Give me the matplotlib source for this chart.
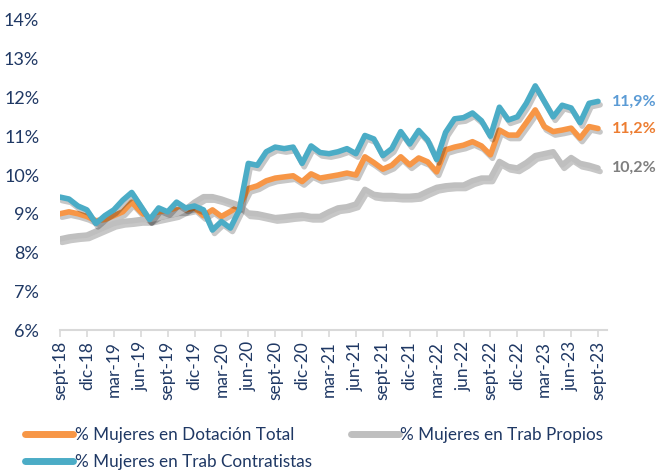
import matplotlib
matplotlib.use("Agg")
import matplotlib.pyplot as plt
import matplotlib.patheffects as pe
import numpy as np

plt.rcParams['font.family'] = ['Lato', 'DejaVu Sans']

months = ["sept-18", "oct-18", "nov-18", "dic-18", "ene-19", "feb-19", "mar-19", "abr-19", "may-19", "jun-19",
          "jul-19", "ago-19", "sept-19", "oct-19", "nov-19", "dic-19", "ene-20", "feb-20", "mar-20", "abr-20",
          "may-20", "jun-20", "jul-20", "ago-20", "sept-20", "oct-20", "nov-20", "dic-20", "ene-21", "feb-21",
          "mar-21", "abr-21", "may-21", "jun-21", "jul-21", "ago-21", "sept-21", "oct-21", "nov-21", "dic-21",
          "ene-22", "feb-22", "mar-22", "abr-22", "may-22", "jun-22", "jul-22", "ago-22", "sept-22", "oct-22",
          "nov-22", "dic-22", "ene-23", "feb-23", "mar-23", "abr-23", "may-23", "jun-23", "jul-23", "ago-23",
          "sept-23"]

dotacion_total = [9.0, 9.05, 9.0, 8.93, 8.82, 8.85, 8.95, 9.05, 9.3, 9.05,
                  8.85, 9.0, 9.05, 9.1, 9.1, 9.15, 8.95, 9.1, 8.93, 9.06,
                  9.2, 9.65, 9.72, 9.85, 9.92, 9.95, 9.98, 9.83, 10.03, 9.92,
                  9.96, 10.0, 10.05, 10.0, 10.47, 10.32, 10.15, 10.25, 10.47, 10.26,
                  10.44, 10.34, 10.08, 10.65, 10.72, 10.77, 10.86, 10.75, 10.52, 11.16,
                  11.03, 11.03, 11.35, 11.68, 11.25, 11.12, 11.16, 11.21, 10.95, 11.25,
                  11.2]

trab_propios = [8.35, 8.4, 8.43, 8.45, 8.55, 8.65, 8.75, 8.8, 8.82, 8.85,
                8.85, 8.9, 8.95, 9.0, 9.12, 9.3, 9.44, 9.44, 9.38, 9.3,
                9.22, 9.02, 9.0, 8.95, 8.9, 8.92, 8.95, 8.97, 8.93, 8.93,
                9.05, 9.15, 9.18, 9.25, 9.63, 9.5, 9.47, 9.47, 9.45, 9.45,
                9.47, 9.58, 9.68, 9.72, 9.74, 9.74, 9.85, 9.92, 9.92, 10.35,
                10.22, 10.18, 10.32, 10.5, 10.55, 10.6, 10.26, 10.45, 10.3, 10.25,
                10.18]

trab_contratistas = [9.43, 9.38, 9.2, 9.1, 8.75, 8.95, 9.1, 9.35, 9.55, 9.2,
                     8.85, 9.15, 9.05, 9.3, 9.15, 9.2, 9.1, 8.58, 8.8, 8.63,
                     9.1, 10.3, 10.25, 10.6, 10.72, 10.68, 10.72, 10.3, 10.75, 10.58,
                     10.55, 10.6, 10.68, 10.55, 11.02, 10.93, 10.5, 10.68, 11.12, 10.8,
                     11.15, 10.9, 10.4, 11.1, 11.45, 11.48, 11.6, 11.4, 11.0, 11.75,
                     11.42, 11.5, 11.85, 12.3, 11.9, 11.5, 11.8, 11.73, 11.35, 11.85,
                     11.9]

series_names = ["% Mujeres en Dotación Total", "% Mujeres en Trab Propios", "% Mujeres en Trab Contratistas"]
end_labels = ["11,2%", "10,2%", "11,9%"]
y_ticks = [6, 7, 8, 9, 10, 11, 12, 13, 14]

c_orange = "#F79646"
c_gray = "#BFBFBF"
c_blue = "#4BACC6"
navy = "#1F3864"

fig = plt.figure(figsize=(6.58, 4.73), dpi=100)
ax = fig.add_axes([60/658, 1 - 330/473, (607-60)/658, (330-20)/473])

x = np.arange(len(months))
shadow = [pe.SimpleLineShadow(offset=(1.5, -2.5), shadow_color='black', alpha=0.22), pe.Normal()]

l1, = ax.plot(x, dotacion_total, color=c_orange, lw=4, solid_joinstyle='round',
              solid_capstyle='round', path_effects=shadow, label=series_names[0], zorder=3)
l2, = ax.plot(x, trab_propios, color=c_gray, lw=4, solid_joinstyle='round',
              solid_capstyle='round', path_effects=shadow, label=series_names[1], zorder=4)
l3, = ax.plot(x, trab_contratistas, color=c_blue, lw=4, solid_joinstyle='round',
              solid_capstyle='round', path_effects=shadow, label=series_names[2], zorder=5)

ax.set_xlim(0, 61)
ax.set_ylim(6, 14)
ax.set_yticks(y_ticks)
ax.set_yticklabels([f"{t}%" for t in y_ticks])
tick_idx = list(range(0, len(months), 3))
ax.set_xticks(tick_idx)
ax.set_xticklabels([months[i] for i in tick_idx], rotation=90)

for s in ["top", "right", "left"]:
    ax.spines[s].set_visible(False)
ax.spines["bottom"].set_color("#D9D9D9")
ax.spines["bottom"].set_linewidth(1.5)
ax.tick_params(axis='y', length=0, labelsize=13, labelcolor=navy, pad=15)
ax.tick_params(axis='x', length=5, width=1.2, color="#D9D9D9", labelsize=12.5, labelcolor=navy, pad=3)

# end labels
last = len(months) - 1
ax.annotate(end_labels[2], (last, trab_contratistas[-1]), xytext=(10, 0), textcoords='offset points',
            va='center', ha='left', color="#5B9BD5", fontsize=11.5, fontweight='bold')
ax.annotate(end_labels[0], (last, dotacion_total[-1]), xytext=(10, 0), textcoords='offset points',
            va='center', ha='left', color="#ED7D31", fontsize=11.5, fontweight='bold')
ax.annotate(end_labels[1], (last, trab_propios[-1]), xytext=(10, 0), textcoords='offset points',
            va='center', ha='left', color="#7F7F7F", fontsize=11.5, fontweight='bold')

leg = fig.legend(handles=[l1, l3, l2], labels=[series_names[0], series_names[2], series_names[1]],
                 ncol=2, loc='upper left', bbox_to_anchor=(25/658, 1 - 427/473), frameon=False,
                 fontsize=12.3, handlelength=2.8, handletextpad=0.1, columnspacing=2.3,
                 labelspacing=0.65, borderaxespad=0, borderpad=0)
for t in leg.get_texts():
    t.set_color(navy)
for h in leg.legend_handles:
    h.set_path_effects([])
    h.set_linewidth(5)

fig.savefig("out.png", dpi=100)
